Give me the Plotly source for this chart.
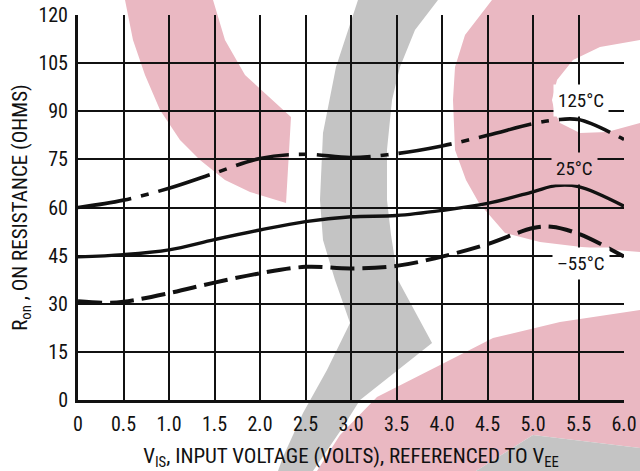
import plotly.graph_objects as go

# ---- data ----
x_125 = [0, 0.5, 1.0, 1.5, 2.0, 2.5, 3.0, 3.5, 4.0, 4.5, 5.0, 5.25, 5.5, 6.0]
r_125 = [60, 62.3, 66, 70.7, 75.3, 76.6, 75.6, 76.8, 79.2, 82.5, 86.1, 87.3, 87.4, 81.2]

x_25 = [0, 0.5, 1.0, 1.5, 2.0, 2.5, 3.0, 3.5, 4.0, 4.5, 5.0, 5.25, 5.5, 6.0]
r_25 = [44.6, 45.3, 46.8, 50, 53, 55.6, 57.1, 57.5, 59.1, 61.3, 64.9, 66.8, 66.5, 60.4]

x_m55 = [0, 0.3, 0.5, 1.0, 1.5, 2.0, 2.5, 3.0, 3.5, 4.0, 4.5, 5.0, 5.2, 5.5, 6.0]
r_m55 = [30.8, 30.3, 30.6, 33.3, 36.6, 39.5, 41.5, 41.0, 41.8, 44.7, 48.6, 53.6, 54.0, 51.8, 44.7]

x_ticks = [0, 0.5, 1.0, 1.5, 2.0, 2.5, 3.0, 3.5, 4.0, 4.5, 5.0, 5.5, 6.0]
x_tick_text = ["0", "0.5", "1.0", "1.5", "2.0", "2.5", "3.0", "3.5", "4.0", "4.5", "5.0", "5.5", "6.0"]
y_ticks = [0, 15, 30, 45, 60, 75, 90, 105, 120]

labels = ["125°C", "25°C", "\u201355°C"]
label_x = [5.53, 5.46, 5.53]
label_y = [93.5, 72.2, 42.4]

FONT = "Liberation Sans Narrow, Arial Narrow, Roboto Condensed, sans-serif"
W, H = 640, 471
L, R, T, B = 78, 16, 15, 71

fig = go.Figure()

fig.add_trace(go.Scatter(x=x_125, y=r_125, mode="lines", line=dict(color="#111", width=3.6, shape="spline", smoothing=1.0, dash="54px,10px,8px,10px"), showlegend=False, hoverinfo="skip"))
fig.add_trace(go.Scatter(x=x_25, y=r_25, mode="lines", line=dict(color="#111", width=3.4, shape="spline", smoothing=1.0), showlegend=False, hoverinfo="skip"))
fig.add_trace(go.Scatter(x=x_m55, y=r_m55, mode="lines", line=dict(color="#111", width=4, shape="spline", smoothing=1.0, dash="24px,8px"), showlegend=False, hoverinfo="skip"))

# ---- decorative watermark (screen-pixel outline -> paper coordinates) ----
pw, ph = W - L - R, H - T - B
def path(pts):
    return "M " + " L ".join(f"{(x - L) / pw:.4f},{(T + ph - y) / ph:.4f}" for x, y in pts) + " Z"

PINK = "#EAB8C2"
GREY = "#C4C4C4"
wm = [
    (PINK, [(125, 0), (213, 0), (225, 40), (245, 75), (291, 117), (286, 203),
            (250, 192), (225, 180), (200, 160), (180, 140), (160, 110), (145, 75), (133, 40)]),
    (PINK, [(492, 0), (640, 0), (640, 40), (600, 47), (573, 60), (557, 80), (552, 100), (555, 113),
            (560, 123), (580, 133), (607, 132), (640, 123), (640, 252), (590, 248), (540, 242),
            (505, 233), (479, 203), (466, 180), (455, 150), (453, 100), (455, 67), (465, 35)]),
    (GREY, [(438, 0), (415, 30), (400, 67), (392, 100), (387, 150), (387, 200), (391, 235),
            (398, 280), (432, 343), (360, 400), (343, 427), (313, 471), (278, 471), (283, 457),
            (303, 413), (327, 370), (350, 323), (335, 280), (323, 240), (320, 200), (323, 133),
            (336, 67), (358, 0)]),
    (PINK, [(317, 471), (340, 435), (377, 397), (450, 360), (493, 338), (560, 322), (640, 310),
            (640, 448), (533, 435), (476, 471)]),
    (GREY, [(476, 471), (533, 435), (640, 448), (640, 471)]),
]
for col, pts in wm:
    fig.add_shape(type="path", path=path(pts), xref="paper", yref="paper",
                  fillcolor=col, line=dict(width=0), layer="below")

label_bg = ["white", PINK, "white"]
for t, lx, ly, bg in zip(labels, label_x, label_y, label_bg):
    fig.add_annotation(x=lx, y=ly, text=t, showarrow=False, font=dict(family=FONT, size=19, color="#111"),
                       bgcolor=bg, borderpad=4)

fig.update_layout(
    width=W, height=H,
    margin=dict(l=L, r=R, t=T, b=B, autoexpand=False),
    paper_bgcolor="white", plot_bgcolor="rgba(0,0,0,0)",
    font=dict(family=FONT, size=19, color="#111"),
    xaxis=dict(range=[0, 6], tickvals=x_ticks, ticktext=x_tick_text, showgrid=True, gridcolor="#111",
               gridwidth=1.5, showline=True, linecolor="#111", linewidth=3, ticks="", zeroline=False,
               tickfont=dict(size=20), ticklabelstandoff=4, automargin=False, ticklabeloverflow="allow",
               title=dict(text="V<sub>IS</sub>, INPUT VOLTAGE (VOLTS), REFERENCED TO V<sub>EE</sub>",
                          font=dict(size=21), standoff=16)),
    yaxis=dict(range=[0, 120], tickvals=y_ticks, showgrid=True, gridcolor="#111", gridwidth=1.5,
               showline=True, linecolor="#111", linewidth=3, ticks="", zeroline=False,
               tickfont=dict(size=20), ticklabelstandoff=3, automargin=False, ticklabeloverflow="allow",
               title=dict(text="R<sub>on</sub> , ON RESISTANCE (OHMS)", font=dict(size=21), standoff=6)),
)

fig.write_html("out.html", config={"displayModeBar": False},
               post_script="document.body.style.margin='0';document.body.style.overflow='hidden';")
